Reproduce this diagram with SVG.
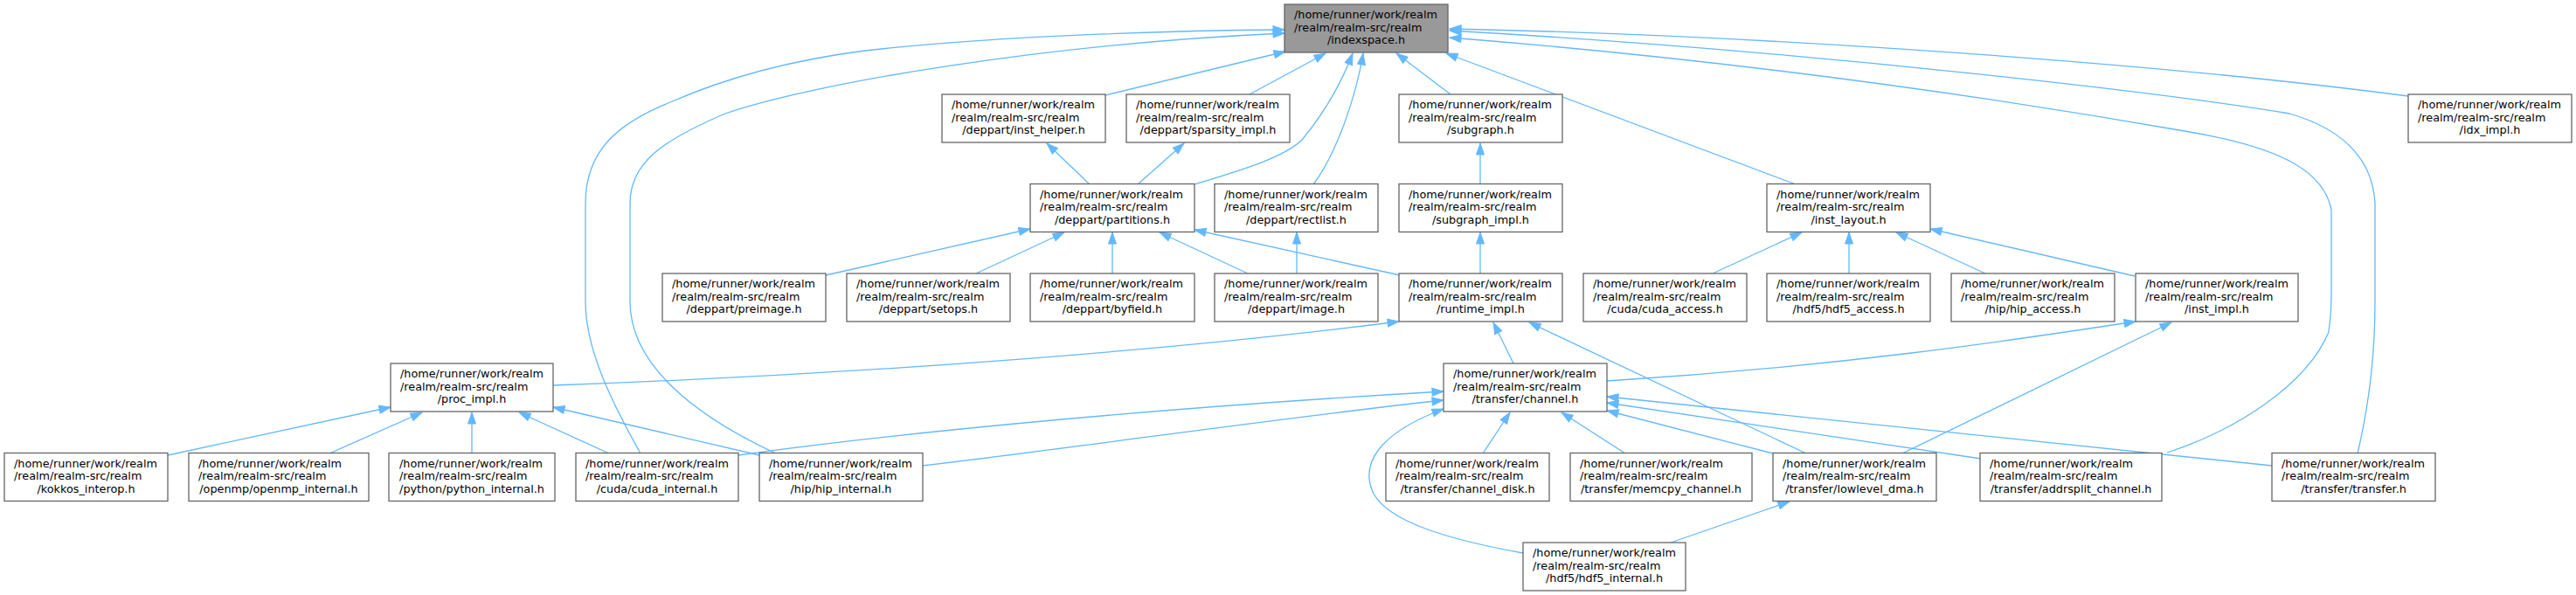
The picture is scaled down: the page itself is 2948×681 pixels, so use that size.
<svg xmlns="http://www.w3.org/2000/svg" width="2948" height="681" viewBox="0 0 2948 681">
<style>
.n rect{fill:#fff;stroke:#666;stroke-width:1.3}
.n.root rect{fill:#999}
.n text{font-family:"DejaVu Sans",sans-serif;font-size:12.8px;fill:#000}
.n text.c{text-anchor:middle}
#edges path{fill:none;stroke:#63b8ff;stroke-width:1.3;marker-end:url(#ah)}
</style>
<defs>
<marker id="ah" markerUnits="userSpaceOnUse" viewBox="-1 -6 16 12" markerWidth="16" markerHeight="12" refX="13" refY="0" orient="auto">
<path d="M0,-4.5 L13,0 L0,4.5 z" fill="#63b8ff" stroke="#63b8ff" stroke-width="1"/>
</marker>
</defs>
<rect width="2948" height="681" fill="#fff"/>
<g id="edges">
<path d="M2756,110 C2450,70 2000,40 1659,33"/>
<path d="M2698,519 C2712,460 2718,400 2718,345 L2718,233 C2716,190 2690,150 2620,130 C2500,110 2100,60 1659,35"/>
<path d="M2480,518 C2560,492 2640,440 2665,380 C2668,360 2668,345 2668,340 L2668,240 C2660,200 2620,170 2500,150 C2300,115 2000,70 1659,43"/>
<path d="M733,519 C700,460 670,400 670,345 L670,233 C670,170 710,140 767,117 C840,85 920,67 990,58 C1150,40 1350,35 1470,34"/>
<path d="M888,519 C800,478 721,420 721,345 L721,233 C721,185 760,160 830,130 C930,95 1200,50 1470,38"/>
<path d="M1265,109 L1471,59"/>
<path d="M1430,108 L1517,61"/>
<path d="M1367,211 C1420,195 1470,180 1490,160 C1515,130 1535,95 1548,61"/>
<path d="M1503,211 C1530,175 1552,110 1560,61"/>
<path d="M1660,108 L1598,61"/>
<path d="M2055,211 L1655,61"/>
<path d="M1247,211 L1198,164"/>
<path d="M1302,211 L1355,164"/>
<path d="M1694,211 L1694,164"/>
<path d="M945,315 L1179,262"/>
<path d="M1117,313 L1218,266"/>
<path d="M1273,313 L1273,266"/>
<path d="M1428,313 L1327,266"/>
<path d="M1602,315 L1367,263"/>
<path d="M1484,313 L1484,266"/>
<path d="M1694,313 L1694,266"/>
<path d="M1960,313 L2062,266"/>
<path d="M2116,313 L2116,266"/>
<path d="M2272,313 L2170,266"/>
<path d="M2443,316 L2209,262"/>
<path d="M633,441 C1000,428 1350,400 1601,368"/>
<path d="M1732,416 L1709,369"/>
<path d="M2067,519 L1750,369"/>
<path d="M1839,436 C2100,420 2300,390 2444,368"/>
<path d="M2177,519 L2485,369"/>
<path d="M192,521 L447,466"/>
<path d="M377,519 L483,472"/>
<path d="M540,519 L540,472"/>
<path d="M697,519 L594,472"/>
<path d="M869,521 L633,466"/>
<path d="M845,521 C1000,499 1300,468 1652,448"/>
<path d="M1056,533 C1250,510 1450,480 1652,458"/>
<path d="M1743,633 C1660,618 1590,598 1572,565 C1555,530 1580,495 1652,468"/>
<path d="M1697,519 L1728,472"/>
<path d="M1860,519 L1787,472"/>
<path d="M2029,519 L1839,470"/>
<path d="M2267,525 L1839,461"/>
<path d="M2600,533 L1839,454"/>
<path d="M1912,621 L2048,574"/>
</g>
<g id="indexspace" class="n root"><rect x="1470" y="5" width="187" height="55"/><text x="1481" y="21">/home/runner/work/realm</text><text x="1481" y="35.7">/realm/realm-src/realm</text><text class="c" x="1563.5" y="50.4">/indexspace.h</text></g>
<g id="inst_helper" class="n"><rect x="1078" y="108" width="187" height="55"/><text x="1089" y="124">/home/runner/work/realm</text><text x="1089" y="138.7">/realm/realm-src/realm</text><text class="c" x="1171.5" y="153.4">/deppart/inst_helper.h</text></g>
<g id="sparsity_impl" class="n"><rect x="1289" y="108" width="187" height="55"/><text x="1300" y="124">/home/runner/work/realm</text><text x="1300" y="138.7">/realm/realm-src/realm</text><text class="c" x="1382.5" y="153.4">/deppart/sparsity_impl.h</text></g>
<g id="subgraph" class="n"><rect x="1601" y="108" width="187" height="55"/><text x="1612" y="124">/home/runner/work/realm</text><text x="1612" y="138.7">/realm/realm-src/realm</text><text class="c" x="1694.5" y="153.4">/subgraph.h</text></g>
<g id="idx_impl" class="n"><rect x="2756" y="108" width="187" height="55"/><text x="2767" y="124">/home/runner/work/realm</text><text x="2767" y="138.7">/realm/realm-src/realm</text><text class="c" x="2849.5" y="153.4">/idx_impl.h</text></g>
<g id="partitions" class="n"><rect x="1179" y="210.5" width="188" height="55"/><text x="1190" y="226.5">/home/runner/work/realm</text><text x="1190" y="241.2">/realm/realm-src/realm</text><text class="c" x="1273" y="255.9">/deppart/partitions.h</text></g>
<g id="rectlist" class="n"><rect x="1390" y="210.5" width="187" height="55"/><text x="1401" y="226.5">/home/runner/work/realm</text><text x="1401" y="241.2">/realm/realm-src/realm</text><text class="c" x="1483.5" y="255.9">/deppart/rectlist.h</text></g>
<g id="subgraph_impl" class="n"><rect x="1601" y="210.5" width="187" height="55"/><text x="1612" y="226.5">/home/runner/work/realm</text><text x="1612" y="241.2">/realm/realm-src/realm</text><text class="c" x="1694.5" y="255.9">/subgraph_impl.h</text></g>
<g id="inst_layout" class="n"><rect x="2022" y="210.5" width="187" height="55"/><text x="2033" y="226.5">/home/runner/work/realm</text><text x="2033" y="241.2">/realm/realm-src/realm</text><text class="c" x="2115.5" y="255.9">/inst_layout.h</text></g>
<g id="preimage" class="n"><rect x="758" y="313" width="187" height="55"/><text x="769" y="329">/home/runner/work/realm</text><text x="769" y="343.7">/realm/realm-src/realm</text><text class="c" x="851.5" y="358.4">/deppart/preimage.h</text></g>
<g id="setops" class="n"><rect x="969" y="313" width="187" height="55"/><text x="980" y="329">/home/runner/work/realm</text><text x="980" y="343.7">/realm/realm-src/realm</text><text class="c" x="1062.5" y="358.4">/deppart/setops.h</text></g>
<g id="byfield" class="n"><rect x="1179" y="313" width="188" height="55"/><text x="1190" y="329">/home/runner/work/realm</text><text x="1190" y="343.7">/realm/realm-src/realm</text><text class="c" x="1273" y="358.4">/deppart/byfield.h</text></g>
<g id="image" class="n"><rect x="1390" y="313" width="187" height="55"/><text x="1401" y="329">/home/runner/work/realm</text><text x="1401" y="343.7">/realm/realm-src/realm</text><text class="c" x="1483.5" y="358.4">/deppart/image.h</text></g>
<g id="runtime_impl" class="n"><rect x="1601" y="313" width="187" height="55"/><text x="1612" y="329">/home/runner/work/realm</text><text x="1612" y="343.7">/realm/realm-src/realm</text><text class="c" x="1694.5" y="358.4">/runtime_impl.h</text></g>
<g id="cuda_access" class="n"><rect x="1812" y="313" width="187" height="55"/><text x="1823" y="329">/home/runner/work/realm</text><text x="1823" y="343.7">/realm/realm-src/realm</text><text class="c" x="1905.5" y="358.4">/cuda/cuda_access.h</text></g>
<g id="hdf5_access" class="n"><rect x="2022" y="313" width="187" height="55"/><text x="2033" y="329">/home/runner/work/realm</text><text x="2033" y="343.7">/realm/realm-src/realm</text><text class="c" x="2115.5" y="358.4">/hdf5/hdf5_access.h</text></g>
<g id="hip_access" class="n"><rect x="2233" y="313" width="187" height="55"/><text x="2244" y="329">/home/runner/work/realm</text><text x="2244" y="343.7">/realm/realm-src/realm</text><text class="c" x="2326.5" y="358.4">/hip/hip_access.h</text></g>
<g id="inst_impl" class="n"><rect x="2444" y="313" width="186" height="55"/><text x="2455" y="329">/home/runner/work/realm</text><text x="2455" y="343.7">/realm/realm-src/realm</text><text class="c" x="2537" y="358.4">/inst_impl.h</text></g>
<g id="proc_impl" class="n"><rect x="447" y="416" width="186" height="55"/><text x="458" y="432">/home/runner/work/realm</text><text x="458" y="446.7">/realm/realm-src/realm</text><text class="c" x="540" y="461.4">/proc_impl.h</text></g>
<g id="channel" class="n"><rect x="1652" y="416" width="187" height="55"/><text x="1663" y="432">/home/runner/work/realm</text><text x="1663" y="446.7">/realm/realm-src/realm</text><text class="c" x="1745.5" y="461.4">/transfer/channel.h</text></g>
<g id="kokkos_interop" class="n"><rect x="5" y="518.5" width="187" height="55"/><text x="16" y="534.5">/home/runner/work/realm</text><text x="16" y="549.2">/realm/realm-src/realm</text><text class="c" x="98.5" y="563.9">/kokkos_interop.h</text></g>
<g id="openmp_internal" class="n"><rect x="216" y="518.5" width="206" height="55"/><text x="227" y="534.5">/home/runner/work/realm</text><text x="227" y="549.2">/realm/realm-src/realm</text><text class="c" x="319" y="563.9">/openmp/openmp_internal.h</text></g>
<g id="python_internal" class="n"><rect x="445" y="518.5" width="190" height="55"/><text x="457" y="534.5">/home/runner/work/realm</text><text x="457" y="549.2">/realm/realm-src/realm</text><text class="c" x="540" y="563.9">/python/python_internal.h</text></g>
<g id="cuda_internal" class="n"><rect x="659" y="518.5" width="186" height="55"/><text x="670" y="534.5">/home/runner/work/realm</text><text x="670" y="549.2">/realm/realm-src/realm</text><text class="c" x="752" y="563.9">/cuda/cuda_internal.h</text></g>
<g id="hip_internal" class="n"><rect x="869" y="518.5" width="187" height="55"/><text x="880" y="534.5">/home/runner/work/realm</text><text x="880" y="549.2">/realm/realm-src/realm</text><text class="c" x="962.5" y="563.9">/hip/hip_internal.h</text></g>
<g id="channel_disk" class="n"><rect x="1586" y="518.5" width="187" height="55"/><text x="1597" y="534.5">/home/runner/work/realm</text><text x="1597" y="549.2">/realm/realm-src/realm</text><text class="c" x="1679.5" y="563.9">/transfer/channel_disk.h</text></g>
<g id="memcpy_channel" class="n"><rect x="1797" y="518.5" width="208" height="55"/><text x="1808" y="534.5">/home/runner/work/realm</text><text x="1808" y="549.2">/realm/realm-src/realm</text><text class="c" x="1901" y="563.9">/transfer/memcpy_channel.h</text></g>
<g id="lowlevel_dma" class="n"><rect x="2029" y="518.5" width="187" height="55"/><text x="2040" y="534.5">/home/runner/work/realm</text><text x="2040" y="549.2">/realm/realm-src/realm</text><text class="c" x="2122.5" y="563.9">/transfer/lowlevel_dma.h</text></g>
<g id="addrsplit_channel" class="n"><rect x="2266" y="518.5" width="208" height="55"/><text x="2277" y="534.5">/home/runner/work/realm</text><text x="2277" y="549.2">/realm/realm-src/realm</text><text class="c" x="2370" y="563.9">/transfer/addrsplit_channel.h</text></g>
<g id="transfer" class="n"><rect x="2600" y="518.5" width="187" height="55"/><text x="2611" y="534.5">/home/runner/work/realm</text><text x="2611" y="549.2">/realm/realm-src/realm</text><text class="c" x="2693.5" y="563.9">/transfer/transfer.h</text></g>
<g id="hdf5_internal" class="n"><rect x="1743" y="621" width="186" height="55"/><text x="1754" y="637">/home/runner/work/realm</text><text x="1754" y="651.7">/realm/realm-src/realm</text><text class="c" x="1836" y="666.4">/hdf5/hdf5_internal.h</text></g>
</svg>
